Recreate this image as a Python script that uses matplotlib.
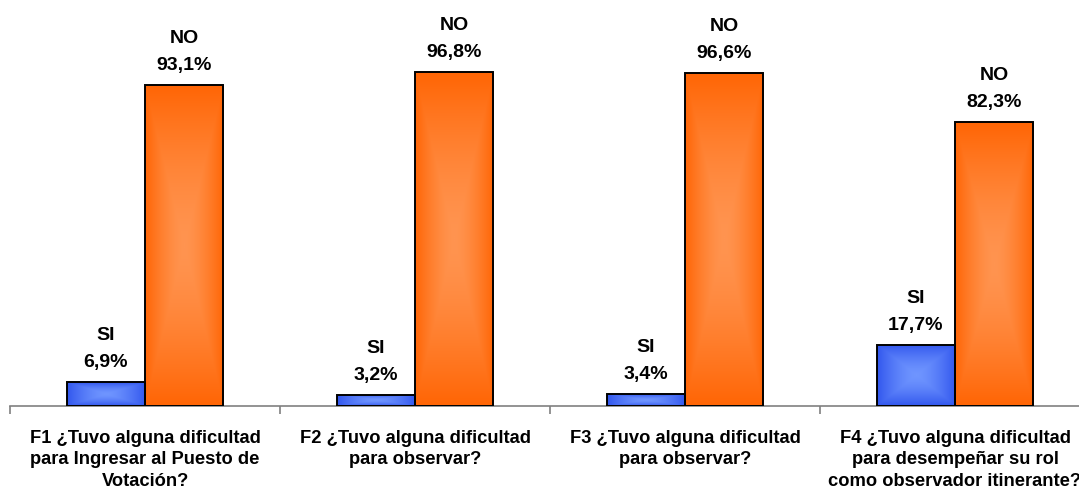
import matplotlib.pyplot as plt
import matplotlib.colors as mcolors
import numpy as np

plt.rcParams['font.family'] = ['Liberation Sans', 'DejaVu Sans']

preguntas = ['F1 ¿Tuvo alguna dificultad\npara Ingresar al Puesto de\nVotación?',
             'F2 ¿Tuvo alguna dificultad\npara observar?',
             'F3 ¿Tuvo alguna dificultad\npara observar?',
             'F4 ¿Tuvo alguna dificultad\npara desempeñar su rol\ncomo observador itinerante?']
si = [6.9, 3.2, 3.4, 17.7]
no = [93.1, 96.8, 96.6, 82.3]


def fmt(v):
    return ('%.1f%%' % v).replace('.', ',')


def gradient_bar(ax, bar, light, dark):
    # radial-ish fill: light in the middle, darker to the edges
    x0, y0 = bar.get_x(), bar.get_y()
    w, h = bar.get_width(), bar.get_height()
    gx, gy = np.meshgrid(np.linspace(-1, 1, 60), np.linspace(-1, 1, 60))
    d = np.clip(np.maximum(np.abs(gx), np.abs(gy)) ** 1.5, 0, 1)
    cmap = mcolors.LinearSegmentedColormap.from_list('g', [light, dark])
    im = ax.imshow(d, cmap=cmap, extent=[x0, x0 + w, y0, y0 + h],
                   aspect='auto', origin='lower', zorder=2, interpolation='bilinear')
    im.set_clip_path(bar)


fig = plt.figure(figsize=(10.79, 4.91), dpi=100)
ax = fig.add_axes([10 / 1079, 85 / 491, 1080 / 1079, 406 / 491])

x = np.arange(len(preguntas)) + 0.5
w = 0.29
b1 = ax.bar(x - w / 2, si, w, color='#3d63f5', edgecolor='black', linewidth=1.4, zorder=3)
b2 = ax.bar(x + w / 2, no, w, color='#ff6a10', edgecolor='black', linewidth=1.4, zorder=3)

for bar in b1:
    bar.set_facecolor('none')
    gradient_bar(ax, bar, '#6f95ff', '#3358ee')
for bar in b2:
    bar.set_facecolor('none')
    gradient_bar(ax, bar, '#ff9450', '#ff6606')

for bars, vals, lab in [(b1, si, 'SI'), (b2, no, 'NO')]:
    for bar, v in zip(bars, vals):
        ax.annotate(lab + '\n' + fmt(v), (bar.get_x() + bar.get_width() / 2, v),
                    xytext=(0, 8), textcoords='offset points', ha='center', va='bottom',
                    fontsize=14, fontweight='bold', linespacing=1.75)

ax.set_xlim(0, 4)
ax.set_ylim(0, 117.75)
ax.set_yticks([])
for s in ['left', 'right', 'top']:
    ax.spines[s].set_visible(False)
ax.spines['bottom'].set_color('#808080')
ax.spines['bottom'].set_linewidth(1.2)

ax.set_xticks(np.arange(5))
ax.set_xticklabels([])
ax.tick_params(axis='x', which='major', length=6, color='#808080', width=1.2, direction='out')
ax.set_xticks(x, minor=True)
ax.set_xticklabels(preguntas, minor=True, fontsize=13.2, fontweight='bold', linespacing=1.35)
ax.tick_params(axis='x', which='minor', length=0, pad=17)

fig.savefig('out.png', dpi=100)
